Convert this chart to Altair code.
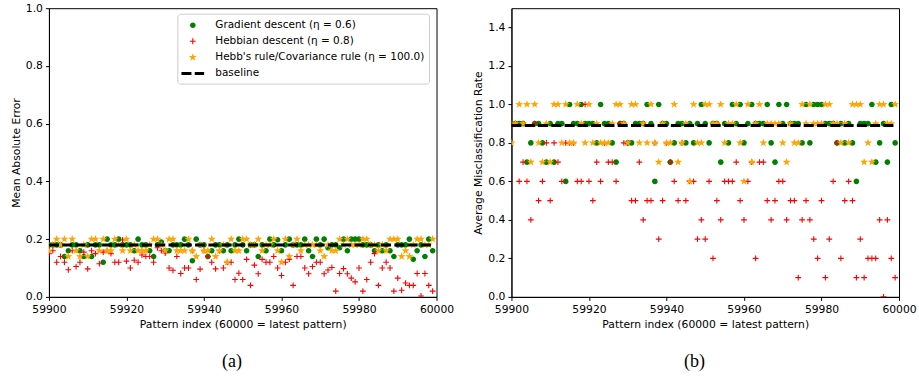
import math
import altair as alt
import pandas as pd

# ---------------- data ----------------
IDX = list(range(59900, 60000))
SERIES = [
    "Gradient descent (η = 0.6)",
    "Hebbian descent (η = 0.8)",
    "Hebb's rule/Covariance rule (η = 100.0)",
    "baseline",
]
COLORS = ["#008000", "#ff0000", "#ffa500", "#000000"]

GD_MAE = [0.18, 0.18, 0.18, 0.18, 0.14, 0.16, 0.18, 0.18, 0.16, 0.14,
          0.18, 0.14, 0.18, 0.18, 0.12, 0.20, 0.18, 0.18, 0.20, 0.18,
          0.18, 0.18, 0.16, 0.20, 0.18, 0.18, 0.16, 0.14, 0.18, 0.19,
          0.16, 0.16, 0.18, 0.18, 0.18, 0.20, 0.18, 0.125, 0.20, 0.18,
          0.18, 0.14, 0.16, 0.18, 0.18, 0.16, 0.18, 0.16, 0.18, 0.20,
          0.18, 0.16, 0.18, 0.18, 0.14, 0.18, 0.16, 0.20, 0.18, 0.198,
          0.16, 0.18, 0.20, 0.18, 0.18, 0.18, 0.20, 0.16, 0.14, 0.20,
          0.18, 0.20, 0.17, 0.18, 0.18, 0.17, 0.20, 0.16, 0.20, 0.20,
          0.20, 0.18, 0.18, 0.18, 0.16, 0.18, 0.16, 0.18, 0.16, 0.14,
          0.18, 0.18, 0.18, 0.20, 0.13, 0.16, 0.18, 0.14, 0.20, 0.16]
HD_MAE = [0.15, 0.16, 0.12, 0.14, 0.12, 0.094, 0.16, 0.105, 0.12, 0.155,
          0.097, 0.16, 0.15, 0.115, 0.155, 0.16, 0.15, 0.12, 0.12, 0.197,
          0.124, 0.10, 0.127, 0.12, 0.145, 0.14, 0.14, 0.12, 0.17, 0.16,
          0.152, 0.10, 0.092, 0.14, 0.081, 0.10, 0.10, 0.16, 0.06, 0.096,
          0.16, 0.14, 0.12, 0.097, 0.16, 0.10, 0.12, 0.12, 0.06, 0.082,
          0.06, 0.13, 0.04, 0.11, 0.08, 0.13, 0.12, 0.12, 0.14, 0.10,
          0.074, 0.12, 0.13, 0.04, 0.14, 0.14, 0.10, 0.08, 0.105, 0.12,
          0.12, 0.08, 0.093, 0.102, 0.02, 0.081, 0.098, 0.08, 0.065, 0.052,
          0.10, 0.02, 0.06, 0.12, 0.15, 0.04, 0.10, 0.12, 0.10, 0.02,
          0.065, 0.023, 0.048, 0.04, 0.04, 0.081, 0.003, 0.081, 0.04, 0.02]
HB_MAE = [0.16, 0.18, 0.20, 0.18, 0.20, 0.14, 0.20, 0.16, 0.14, 0.18,
          0.14, 0.20, 0.20, 0.16, 0.20, 0.16, 0.16, 0.20, 0.18, 0.16,
          0.20, 0.16, 0.18, 0.16, 0.16, 0.16, 0.18, 0.20, 0.20, 0.18,
          0.16, 0.20, 0.20, 0.16, 0.16, 0.16, 0.20, 0.16, 0.14, 0.18,
          0.16, 0.16, 0.20, 0.14, 0.16, 0.18, 0.12, 0.20, 0.16, 0.16,
          0.20, 0.20, 0.18, 0.18, 0.20, 0.16, 0.18, 0.18, 0.20, 0.16,
          0.12, 0.20, 0.14, 0.18, 0.20, 0.16, 0.18, 0.18, 0.18, 0.18,
          0.16, 0.14, 0.18, 0.16, 0.16, 0.20, 0.18, 0.20, 0.18, 0.18,
          0.18, 0.20, 0.20, 0.18, 0.18, 0.16, 0.18, 0.16, 0.20, 0.20,
          0.20, 0.14, 0.16, 0.14, 0.18, 0.20, 0.20, 0.18, 0.18, 0.20]
BASELINE_MAE = 0.18

GD_MCR = [0.9, 0.9, 0.9, 0.9, 0.7, 0.8, 0.9, 0.9, 0.8, 0.7,
          0.9, 0.7, 0.9, 0.9, 0.6, 1.0, 0.9, 0.9, 1.0, 0.9,
          0.9, 0.9, 0.8, 1.0, 0.9, 0.9, 0.8, 0.7, 0.9, 0.9,
          0.8, 0.8, 0.9, 0.9, 0.9, 1.0, 0.9, 0.6, 1.0, 0.9,
          0.9, 0.7, 0.8, 0.9, 0.9, 0.8, 0.9, 0.8, 0.9, 1.0,
          0.9, 0.8, 0.9, 0.9, 0.7, 0.9, 0.8, 1.0, 0.9, 1.0,
          0.8, 0.9, 1.0, 0.9, 0.9, 0.9, 1.0, 0.8, 0.7, 1.0,
          0.9, 1.0, 0.9, 0.9, 0.9, 0.8, 1.0, 0.8, 1.0, 1.0,
          1.0, 0.9, 0.9, 0.9, 0.8, 0.9, 0.8, 0.9, 0.8, 0.6,
          0.9, 0.9, 0.9, 1.0, 0.7, 0.8, 0.9, 0.7, 1.0, 0.8]
HD_MCR = [0.9, 0.9, 0.6, 0.7, 0.6, 0.4, 0.9, 0.5, 0.6, 0.8,
          0.5, 0.8, 0.7, 0.6, 0.8, 0.8, 0.8, 0.6, 0.6, 1.0,
          0.6, 0.5, 0.7, 0.6, 0.8, 0.7, 0.7, 0.6, 0.9, 0.8,
          0.8, 0.5, 0.5, 0.7, 0.4, 0.5, 0.5, 0.8, 0.3, 0.5,
          0.8, 0.7, 0.6, 0.5, 0.8, 0.5, 0.6, 0.6, 0.3, 0.4,
          0.3, 0.6, 0.2, 0.5, 0.4, 0.6, 0.6, 0.6, 0.7, 0.5,
          0.4, 0.6, 0.7, 0.2, 0.7, 0.7, 0.5, 0.4, 0.5, 0.6,
          0.6, 0.4, 0.5, 0.5, 0.1, 0.4, 0.5, 0.4, 0.3, 0.2,
          0.5, 0.1, 0.3, 0.6, 0.8, 0.2, 0.5, 0.6, 0.5, 0.1,
          0.3, 0.1, 0.2, 0.2, 0.2, 0.4, 0.0, 0.4, 0.2, 0.1]
HB_MCR = [0.8, 0.9, 1.0, 0.9, 1.0, 0.7, 1.0, 0.8, 0.7, 0.9,
          0.7, 1.0, 1.0, 0.8, 1.0, 0.8, 0.8, 1.0, 0.9, 0.8,
          1.0, 0.8, 0.9, 0.8, 0.8, 0.8, 0.9, 1.0, 1.0, 0.9,
          0.8, 1.0, 1.0, 0.8, 0.9, 0.8, 1.0, 0.8, 0.7, 0.9,
          0.8, 0.8, 1.0, 0.7, 0.8, 0.9, 0.6, 1.0, 0.8, 0.8,
          1.0, 1.0, 0.9, 0.9, 1.0, 0.8, 0.9, 0.9, 1.0, 0.8,
          0.6, 1.0, 0.7, 0.9, 1.0, 0.8, 0.9, 0.9, 0.9, 0.9,
          0.8, 0.7, 0.9, 0.8, 0.8, 1.0, 0.9, 1.0, 0.9, 0.9,
          0.9, 1.0, 1.0, 0.9, 0.9, 0.8, 0.9, 0.8, 1.0, 1.0,
          1.0, 0.7, 0.8, 0.7, 0.9, 1.0, 1.0, 0.9, 0.9, 1.0]
BASELINE_MCR = 0.89

X_TICKS = [59900, 59920, 59940, 59960, 59980, 60000]
YA_TICKS = [0.0, 0.2, 0.4, 0.6, 0.8, 1.0]
YB_TICKS = [0.0, 0.2, 0.4, 0.6, 0.8, 1.0, 1.2, 1.4]

# ---------------- marker shapes (SVG paths) ----------------
U = 7.5                     # px per path unit
SYM_SIZE = (2 * U) ** 2     # symbol size -> unit scale U


def f(v):
    return f"{v / U:.4f}"


def rect(x0, y0, x1, y1):
    return f"M{f(x0)},{f(y0)}H{f(x1)}V{f(y1)}H{f(x0)}Z"


def circle(r):
    return (f"M{f(r)},0A{f(r)},{f(r)} 0 1,1 {f(-r)},0"
            f"A{f(r)},{f(r)} 0 1,1 {f(r)},0Z")


def star(ro, ri):
    pts = []
    for k in range(10):
        a = -math.pi / 2 + k * math.pi / 5
        r = ro if k % 2 == 0 else ri
        pts.append(f"{f(r * math.cos(a))},{f(r * math.sin(a))}")
    return "M" + "L".join(pts) + "Z"


SHAPES = [
    circle(2.8),
    rect(-2.9, -0.55, 2.9, 0.55) + rect(-0.55, -2.9, 0.55, 2.9),
    star(4.2, 1.7),
    rect(-11.35, -1.5, -1.35, 1.5) + rect(1.95, -1.5, 11.35, 1.5),
]

FONT = "DejaVu Sans"
FS = 10.8


def legend():
    return alt.Legend(
        title=None, orient="none", legendX=128.5, legendY=5.5,
        labelFont=FONT, labelFontSize=10.5, labelColor="black", labelLimit=500,
        symbolSize=SYM_SIZE, symbolStrokeWidth=0, symbolOpacity=1,
        padding=4, rowPadding=3.1, symbolOffset=4, labelOffset=15,
        fillColor="white", strokeColor="#cccccc", cornerRadius=3,
    )


def panel(gd, hd, hb, base, ydomain, yticks, ytitle, caption):
    x = alt.X("idx:Q",
              scale=alt.Scale(domain=[59900, 60000], nice=False, zero=False),
              axis=alt.Axis(values=X_TICKS, format="d", labelFlush=False,
                            title="Pattern index (60000 = latest pattern)"))
    y = alt.Y("value:Q",
              scale=alt.Scale(domain=ydomain, nice=False, zero=False),
              axis=alt.Axis(values=yticks, format=".1f", labelFlush=False,
                            title=ytitle))
    color = alt.Color("series:N",
                      scale=alt.Scale(domain=SERIES, range=COLORS),
                      legend=legend())
    shape = alt.Shape("series:N",
                      scale=alt.Scale(domain=SERIES, range=SHAPES),
                      legend=legend())
    layers = []
    for name, vals in zip(SERIES[:3], [gd, hd, hb]):
        df = pd.DataFrame({"idx": IDX, "value": vals, "series": name})
        layers.append(
            alt.Chart(df).mark_point(filled=True, size=SYM_SIZE, opacity=1,
                                     strokeWidth=0, clip=True)
            .encode(x=x, y=y, color=color, shape=shape)
        )
    bdf = pd.DataFrame({"idx": [IDX[0], IDX[-1]], "value": [base, base]})
    layers.append(
        alt.Chart(bdf).mark_line(color="black", strokeWidth=3,
                                 strokeDash=[10, 3.3], strokeCap="butt")
        .encode(x=x, y=y)
    )
    return alt.layer(*layers).properties(
        width=388, height=289,
        title=alt.TitleParams(caption, orient="bottom", anchor="middle",
                              frame="bounds", font="Liberation Serif",
                              fontSize=18, fontWeight="normal", color="black",
                              offset=24),
    )


left = panel(GD_MAE, HD_MAE, HB_MAE, BASELINE_MAE, [0, 1.0], YA_TICKS,
             "Mean Absolute Error", "(a)")
right = panel(GD_MCR, HD_MCR, HB_MCR, BASELINE_MCR, [0, 1.5], YB_TICKS,
              "Average Misclassification Rate", "(b)")

chart = alt.hconcat(left, right, spacing=17).properties(
    padding={"left": 9, "top": 1, "right": 2, "bottom": 2},
    background="white",
).configure_axis(
    labelFont=FONT, labelFontSize=FS, labelColor="black",
    titleFont=FONT, titleFontSize=FS, titleColor="black",
    titleFontWeight="normal", tickColor="black", domainColor="black",
    tickSize=3.5, labelPadding=3, titlePadding=4, grid=False,
    domainWidth=1, tickWidth=1,
).configure_view(stroke="black", strokeWidth=1)

chart.save("out.html", embed_options={"renderer": "svg", "actions": False})
